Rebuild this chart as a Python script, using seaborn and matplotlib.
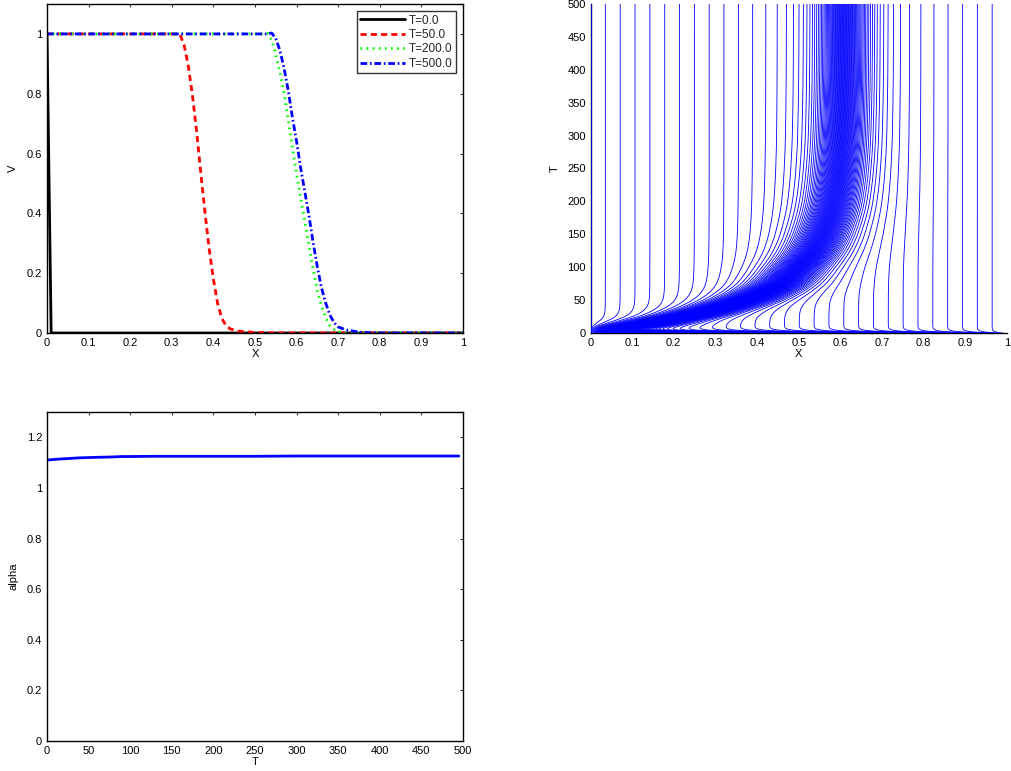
import numpy as np
import pandas as pd
import matplotlib
matplotlib.use("Agg")
import matplotlib.pyplot as plt
import seaborn as sns

# ---------------------------------------------------------------- data
# Solution profiles V(X) at selected output times
x_t0 = [0.0, 0.01, 1.0]
v_t0 = [1.0, 0.0, 0.0]

x_t50 = [0.0, 0.30, 0.32, 0.33, 0.34, 0.35, 0.36, 0.37, 0.38, 0.39, 0.40,
         0.41, 0.42, 0.43, 0.44, 0.46, 0.50, 0.55, 1.0]
v_t50 = [1.0, 1.0, 0.998, 0.96, 0.89, 0.79, 0.67, 0.53, 0.40, 0.28, 0.18,
         0.10, 0.05, 0.025, 0.014, 0.006, 0.002, 0.0, 0.0]

x_t200 = [0.0, 0.515, 0.53, 0.54, 0.55, 0.56, 0.57, 0.58, 0.59, 0.60, 0.61,
          0.62, 0.63, 0.64, 0.65, 0.66, 0.67, 0.68, 0.69, 0.70, 0.72, 1.0]
v_t200 = [1.0, 1.0, 1.002, 0.98, 0.93, 0.87, 0.80, 0.71, 0.62, 0.53, 0.45,
          0.37, 0.29, 0.21, 0.14, 0.09, 0.05, 0.025, 0.012, 0.005, 0.0, 0.0]

x_t500 = [0.0, 0.528, 0.54, 0.55, 0.56, 0.57, 0.58, 0.59, 0.60, 0.61, 0.62,
          0.63, 0.64, 0.65, 0.66, 0.67, 0.68, 0.69, 0.70, 0.72, 0.75, 0.80, 1.0]
v_t500 = [1.0, 1.0, 1.003, 0.985, 0.944, 0.885, 0.81, 0.72, 0.64, 0.55, 0.47,
          0.39, 0.30, 0.22, 0.15, 0.10, 0.06, 0.035, 0.02, 0.01, 0.003, 0.0, 0.0]

profile_labels = ["T=0.0", "T=50.0", "T=200.0", "T=500.0"]

# Front location (centre of the steep layer) versus time
front_T = [0, 5, 10, 15, 20, 25, 30, 40, 50, 60, 75, 100, 125, 150, 200,
           250, 300, 400, 500]
front_X = [0.01, 0.055, 0.10, 0.145, 0.185, 0.225, 0.26, 0.32, 0.37, 0.41,
           0.455, 0.50, 0.535, 0.558, 0.585, 0.597, 0.603, 0.607, 0.608]

# Mesh parameters
n_intervals = 100          # number of mesh cells
monitor_peak = 24.0        # peak of the monitor function above 1
monitor_width = 0.034      # width of the monitor bump
relax_time = 1.5           # initial adaptation time of the uniform mesh

# Scaling parameter alpha(T)
T_alpha = [0, 10, 25, 40, 50, 60, 75, 90, 100, 125, 150, 200, 250, 300, 400, 495]
alpha_vals = [1.110, 1.113, 1.116, 1.119, 1.120, 1.121, 1.122, 1.124, 1.124,
              1.125, 1.125, 1.125, 1.125, 1.126, 1.126, 1.126]


# ------------------------------------------------- moving mesh trajectories
def pchip(xk, yk, xq):
    """Monotone piecewise cubic Hermite interpolation (Fritsch-Carlson)."""
    xk = np.asarray(xk, float)
    yk = np.asarray(yk, float)
    h = np.diff(xk)
    d = np.diff(yk) / h
    m = np.zeros_like(yk)
    for i in range(1, len(xk) - 1):
        if d[i - 1] * d[i] > 0:
            w1 = 2 * h[i] + h[i - 1]
            w2 = h[i] + 2 * h[i - 1]
            m[i] = (w1 + w2) / (w1 / d[i - 1] + w2 / d[i])
    m[0] = d[0]
    m[-1] = d[-1]
    idx = np.clip(np.searchsorted(xk, xq) - 1, 0, len(h) - 1)
    tt = (xq - xk[idx]) / h[idx]
    h00 = 2 * tt**3 - 3 * tt**2 + 1
    h10 = tt**3 - 2 * tt**2 + tt
    h01 = -2 * tt**3 + 3 * tt**2
    h11 = tt**3 - tt**2
    return (h00 * yk[idx] + h10 * h[idx] * m[idx]
            + h01 * yk[idx + 1] + h11 * h[idx] * m[idx + 1])


t_grid = np.unique(np.concatenate([np.linspace(0, 10, 201),
                                   np.linspace(10, 500, 491)]))
s_grid = pchip(front_T, front_X, t_grid)

xf = np.linspace(0.0, 1.0, 6001)
uniform = np.arange(n_intervals + 1) / n_intervals
mesh = np.empty((len(t_grid), n_intervals + 1))
for k, sk in enumerate(s_grid):
    # monitor bump around the front, reflected at the left boundary
    bump = (1.0 / np.cosh((xf - sk) / monitor_width)
            + 1.0 / np.cosh((xf + sk) / monitor_width))
    M = 1.0 + monitor_peak * bump
    cum = np.concatenate([[0.0], np.cumsum(0.5 * (M[1:] + M[:-1]) * np.diff(xf))])
    cum /= cum[-1]
    mesh[k] = np.interp(uniform, cum, xf)
# the computation starts from a uniform mesh which adapts quickly
mesh = mesh + (uniform - mesh[0])[None, :] * np.exp(-t_grid / relax_time)[:, None]

mesh_df = pd.DataFrame({
    "X": mesh.T.ravel(),
    "T": np.tile(t_grid, n_intervals + 1),
    "node": np.repeat(np.arange(n_intervals + 1), len(t_grid)),
})

# ---------------------------------------------------------------- figure
sns.set_theme(style="white")
plt.rcParams["font.family"] = ["Liberation Sans", "DejaVu Sans"]
plt.rcParams.update({
    "font.size": 8,
    "axes.edgecolor": "black",
    "axes.linewidth": 1.0,
    "xtick.direction": "in",
    "ytick.direction": "in",
    "xtick.major.size": 2.5,
    "ytick.major.size": 2.5,
    "xtick.major.width": 0.6,
    "ytick.major.width": 0.6,
    "xtick.major.pad": 3.5,
    "ytick.major.pad": 3.5,
    "xtick.color": "black",
    "ytick.color": "black",
    "xtick.labelsize": 8,
    "ytick.labelsize": 8,
    "axes.labelsize": 8,
    "axes.labelcolor": "black",
})

fig = plt.figure(figsize=(10.12, 7.71), dpi=100)
W, H = 1012.0, 771.0
ax1 = fig.add_axes([47 / W, 1 - 333 / H, 416 / W, 329 / H])
ax2 = fig.add_axes([590.5 / W, 1 - 333 / H, 416.5 / W, 329 / H])
ax3 = fig.add_axes([47 / W, 1 - 741 / H, 416 / W, 329 / H])


def fmt(v):
    return "%g" % round(v, 6)


# ---- V profiles
profiles = [(x_t0, v_t0, "black", "-"),
            (x_t50, v_t50, "red", (0, (2.2, 1.5))),
            (x_t200, v_t200, "#00ff00", (0, (0.6, 1.6))),
            (x_t500, v_t500, "blue", (0, (2.4, 1.0, 0.6, 1.0)))]
for (xs, vs, col, ls), lab in zip(profiles, profile_labels):
    sns.lineplot(x=xs, y=vs, ax=ax1, color=col, linewidth=2, label=lab,
                 sort=False, estimator=None)
    ax1.get_lines()[-1].set_linestyle(ls)
ax1.set_xlim(0, 1)
ax1.set_ylim(0, 1.1)
ax1.set_xticks(np.arange(0, 1.01, 0.1))
ax1.set_xticklabels([fmt(v) for v in np.arange(0, 1.01, 0.1)])
ax1.set_yticks(np.arange(0, 1.01, 0.2))
ax1.set_yticklabels([fmt(v) for v in np.arange(0, 1.01, 0.2)])
ax1.set_xlabel("X", labelpad=1)
ax1.set_ylabel("V", labelpad=6)
leg = ax1.legend(loc="upper right", frameon=True, fancybox=False,
                 edgecolor="black", handlelength=3.8, handletextpad=0.3,
                 borderpad=0.3, labelspacing=0.2, borderaxespad=0.6,
                 fontsize=8.5)
leg.get_frame().set_linewidth(1.0)

# ---- mesh trajectories
sns.lineplot(data=mesh_df, x="X", y="T", units="node", estimator=None,
             sort=False, color="blue", linewidth=0.6, ax=ax2, legend=False,
             zorder=3)
ax2.set_xlim(0, 1)
ax2.set_ylim(0, 500)
ax2.set_xticks(np.arange(0, 1.01, 0.1))
ax2.set_xticklabels([fmt(v) for v in np.arange(0, 1.01, 0.1)])
ax2.set_yticks(np.arange(0, 501, 50))
ax2.set_xlabel("X", labelpad=1)
ax2.set_ylabel("T", labelpad=5)
ax2.spines["top"].set_visible(False)
ax2.spines["right"].set_visible(False)

# ---- alpha(T)
sns.lineplot(x=T_alpha, y=alpha_vals, ax=ax3, color="blue", linewidth=2,
             sort=False, estimator=None)
ax3.set_xlim(0, 500)
ax3.set_ylim(0, 1.3)
ax3.set_xticks(np.arange(0, 501, 50))
ax3.set_yticks(np.arange(0, 1.21, 0.2))
ax3.set_yticklabels([fmt(v) for v in np.arange(0, 1.21, 0.2)])
ax3.set_xlabel("T", labelpad=1)
ax3.set_ylabel("alpha", labelpad=6)

for ax in (ax1, ax3):
    ax.tick_params(top=True, right=True)
    for sp in ax.spines.values():
        sp.set_visible(True)

fig.savefig("out.png", dpi=100)
